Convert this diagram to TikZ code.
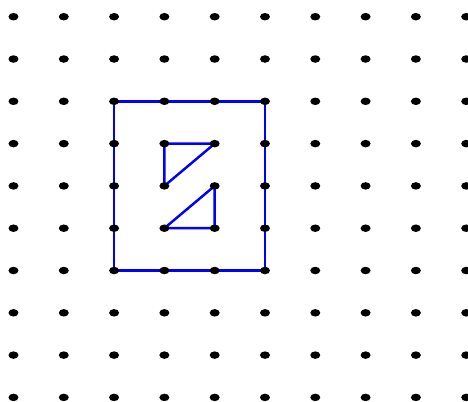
\documentclass[tikz,border=0pt]{standalone}
\usepackage{xcolor}
\usepackage{tikz}
\begin{document}
\begin{tikzpicture}[x=1.006cm,y=-0.846cm]
	\useasboundingbox (-0.268,-0.395) rectangle (9.036,9.085);

	\coordinate (A) at (2,2);
	\coordinate (B) at (5,2);
	\coordinate (C) at (5,6);
	\coordinate (D) at (2,6);

	\coordinate (P) at (3,3); % upper triangle
	\coordinate (Q) at (4,3);
	\coordinate (R) at (3,4);

	\coordinate (S) at (4,4); % lower triangle
	\coordinate (T) at (4,5);
	\coordinate (U) at (3,5);

	\draw[blue, line width=1.4pt] (A)--(B)--(C)--(D)--cycle;
	\draw[blue, line width=1.4pt] (P)--(Q)--(R)--cycle;
	\draw[blue, line width=1.4pt] (S)--(T)--(U)--cycle;

	\foreach \i in {0,...,9}
		\foreach \j in {0,...,9}
			\fill[black] (\i,\j) ellipse (0.1cm and 0.075cm);
\end{tikzpicture}
\end{document}
